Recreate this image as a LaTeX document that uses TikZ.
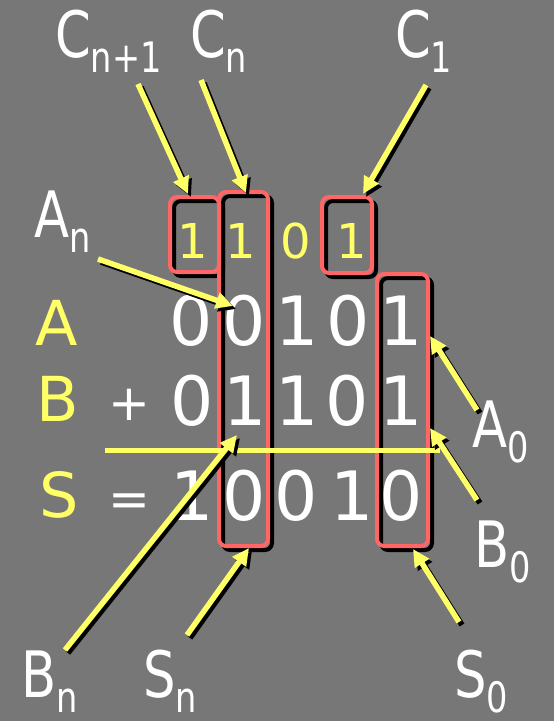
\documentclass[tikz,border=0pt]{standalone}
\usepackage{fontspec}
\setmainfont{DejaVu Sans}
\newfontfamily\labfont[FakeStretch=0.8]{DejaVu Sans}
\usetikzlibrary{arrows.meta}
\definecolor{bg}{RGB}{119,119,119}
\definecolor{ared}{RGB}{255,102,102}
\definecolor{ayel}{RGB}{255,255,102}
\newcommand\lblsub[2]{#1{\fontsize{42}{42}\selectfont\raisebox{-15pt}{#2}}}
\begin{document}
\begin{tikzpicture}[x=1pt,y=-1pt,
 dig/.style={text=white,font=\fontsize{68}{68}\selectfont,anchor=base,inner sep=0pt},
 cdig/.style={text=ayel,font=\fontsize{48}{48}\selectfont,anchor=base,inner sep=0pt},
 rowlab/.style={text=ayel,font=\fontsize{62}{62}\selectfont,anchor=base,inner sep=0pt},
 lab/.style={text=white,anchor=base west,inner sep=0pt,font=\labfont\fontsize{64}{64}\selectfont},
 yarr/.style={draw=ayel,line width=5.5pt,-{Triangle[length=17pt,width=16pt]}},
 sarr/.style={draw=black,line width=5.5pt,-{Triangle[length=17pt,width=16pt]}},
 rbox/.style={draw=ared,line width=4pt,rounded corners=7pt},
 sbox/.style={draw=black,line width=4pt,rounded corners=7pt},
]
\fill[bg] (0,0) rectangle (554,721);
\useasboundingbox (0,0) rectangle (554,721);

% boxes
\coordinate (b1a) at (170,197); \coordinate (b1b) at (219,272);
\coordinate (b2a) at (219,192); \coordinate (b2b) at (268,546);
\coordinate (b3a) at (322,197); \coordinate (b3b) at (372,273);
\coordinate (b4a) at (377,274); \coordinate (b4b) at (428,546);
\draw[sbox] ([shift={(4,4)}]b1a) rectangle ([shift={(4,4)}]b1b);
\draw[sbox] ([shift={(4,4)}]b2a) rectangle ([shift={(4,4)}]b2b);
\draw[sbox] ([shift={(4,4)}]b3a) rectangle ([shift={(4,4)}]b3b);
\draw[sbox] ([shift={(4,4)}]b4a) rectangle ([shift={(4,4)}]b4b);
\draw[rbox] (b1a) rectangle (b1b);
\draw[rbox] (b2a) rectangle (b2b);
\draw[rbox] (b3a) rectangle (b3b);
\draw[rbox] (b4a) rectangle (b4b);

% carry row
\node[cdig] (c4) at (193,258) {1};
\node[cdig] (c3) at (241,258) {1};
\node[cdig] (c2) at (296,258) {0};
\node[cdig] (c1) at (352,258) {1};

% row labels
\node[rowlab] (rA) at (57,345) {A};
\node[rowlab] (rB) at (58,421) {B};
\node[rowlab] (rS) at (59,517) {S};
\node[text=white,font=\fontsize{50}{50}\selectfont,anchor=base,inner sep=0pt] (plus) at (129,420) {+};
\node[text=white,font=\fontsize{50}{50}\selectfont,anchor=base,inner sep=0pt] (eq) at (129,516) {=};

% digits
\node[dig] (a4) at (191,345) {0};
\node[dig] (a3) at (244,345) {0};
\node[dig] (a2) at (297,345) {1};
\node[dig] (a1) at (348,345) {0};
\node[dig] (a0) at (401,345) {1};
\node[dig] (p4) at (192,425) {0};
\node[dig] (p3) at (245,425) {1};
\node[dig] (p2) at (297,425) {1};
\node[dig] (p1) at (347,425) {0};
\node[dig] (p0) at (401,425) {1};
\node[dig] (s4) at (192,520) {1};
\node[dig] (s3) at (244,520) {0};
\node[dig] (s2) at (296,520) {0};
\node[dig] (s1) at (352,520) {1};
\node[dig] (s0) at (401,520) {0};

% sum line
\coordinate (l1) at (105,450); \coordinate (l2) at (440,450);
\draw[ayel,line width=5pt] (l1) -- (l2);

% labels
\node[lab] (Lcn1) at (55,57) {\lblsub{C}{n+1}};
\node[lab] (Lcn) at (190,57) {\lblsub{C}{n}};
\node[lab] (Lc1) at (395,57) {\lblsub{C}{1}};
\node[lab] (Lan) at (34,237) {\lblsub{A}{n}};
\node[lab] (La0) at (472,447) {\lblsub{A}{0}};
\node[lab] (Lb0) at (474,567) {\lblsub{B}{0}};
\node[lab] (Lbn) at (21,697) {\lblsub{B}{n}};
\node[lab] (Lsn) at (143,697) {\lblsub{S}{n}};
\node[lab] (Ls0) at (454,697) {\lblsub{S}{0}};

% arrow coordinates
\coordinate (t1) at (138,84);  \coordinate (h1) at (188,194);
\coordinate (t2) at (201,80);  \coordinate (h2) at (246,193);
\coordinate (t3) at (426,85);  \coordinate (h3) at (363,194);
\coordinate (t4) at (98,259);  \coordinate (h4) at (233,306);
\coordinate (t5) at (477,410); \coordinate (h5) at (430,336);
\coordinate (t6) at (477,500); \coordinate (h6) at (430,428);
\coordinate (t7) at (65,650);  \coordinate (h7) at (237,435);
\coordinate (t8) at (187,635); \coordinate (h8) at (249,548);
\coordinate (t9) at (459,622); \coordinate (h9) at (413,549);
\foreach \i in {1,...,9}{\draw[sarr] ([shift={(3,3)}]t\i) -- ([shift={(3,3)}]h\i);}
\foreach \i in {1,...,9}{\draw[yarr] (t\i) -- (h\i);}
\end{tikzpicture}
\end{document}
